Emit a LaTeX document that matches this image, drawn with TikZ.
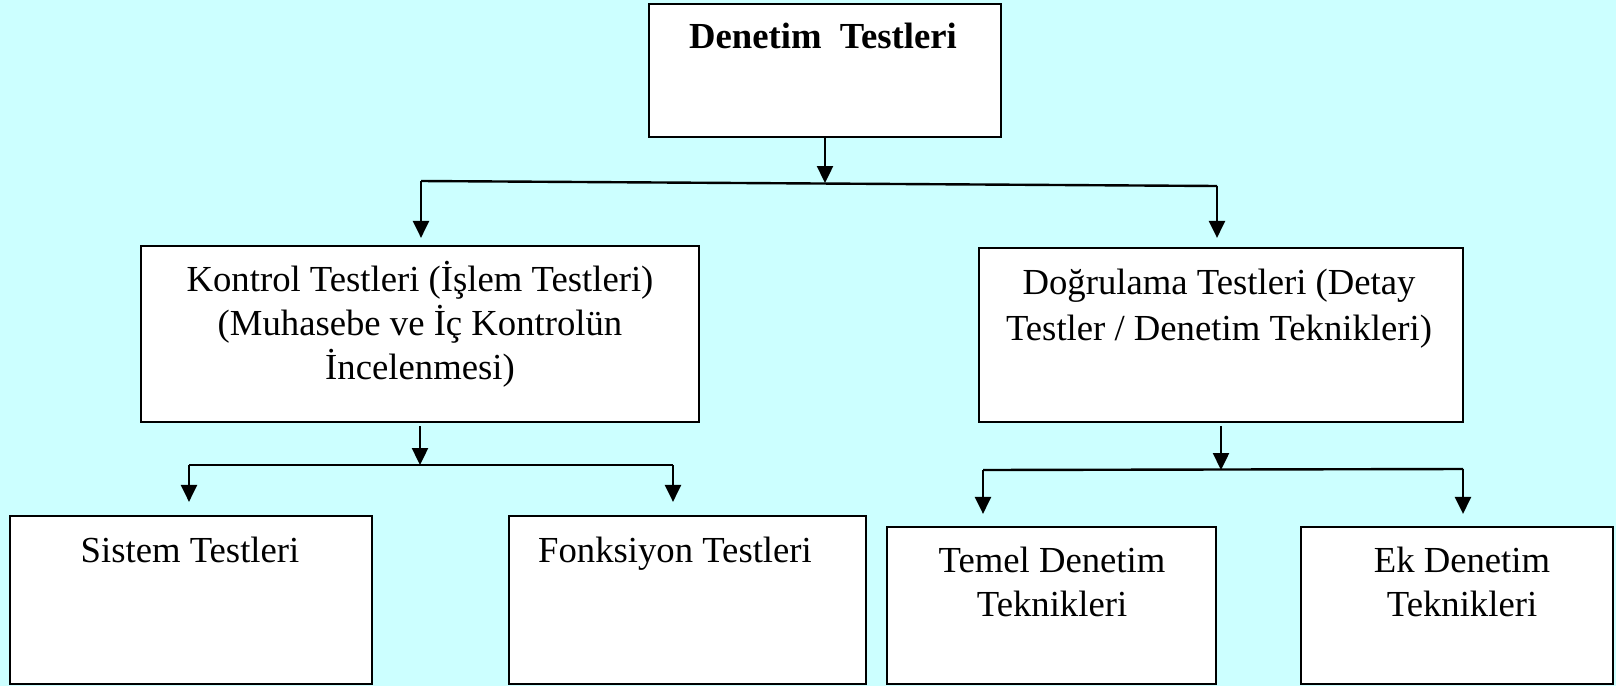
\documentclass[tikz,border=0pt]{standalone}
\usepackage{fontspec}
\setmainfont{Liberation Serif}
\usetikzlibrary{arrows.meta,fit}
\definecolor{bgcyan}{RGB}{204,255,255}
\begin{document}
\begin{tikzpicture}[x=0.5pt,y=-0.5pt,
  box/.style={draw=black, line width=1.1pt, fill=white, inner sep=0pt},
  lbl/.style={font=\fontsize{18.35}{22}\selectfont, align=center, inner sep=0pt, anchor=base},
  conn/.style={line width=1.2pt},
  arr/.style={conn, -{Triangle[length=8.5pt,width=8pt]}}]
\fill[bgcyan] (0,0) rectangle (1616,686);
\useasboundingbox (0,0) rectangle (1616,686);
% boxes
\node[box, fit={(649,4) (1001,137)}] (top) {};
\node[box, fit={(141,246) (699,422)}] (kon) {};
\node[box, fit={(979,248) (1463,422)}] (dog) {};
\node[box, fit={(10,516) (372,684)}] (sis) {};
\node[box, fit={(509,516) (866,684)}] (fon) {};
\node[box, fit={(887,527) (1216,684)}] (tem) {};
\node[box, fit={(1301,527) (1613,684)}] (ek) {};
% texts (anchor base = baseline of last line)
\node[lbl] (ttop) at (823,48) {\bfseries Denetim\ \ Testleri};
\node[lbl] (tkon) at (420,379) {Kontrol Testleri (İşlem Testleri)\\(Muhasebe ve İç Kontrolün\\İncelenmesi)};
\node[lbl, font=\fontsize{18.35}{23}\selectfont] (tdog) at (1219,340) {Doğrulama Testleri (Detay\\Testler / Denetim Teknikleri)};
\node[lbl] (tsis) at (190,562) {Sistem Testleri};
\node[lbl] (tfon) at (675,562) {Fonksiyon Testleri};
\node[lbl] (ttem) at (1052,616) {Temel Denetim\\Teknikleri};
\node[lbl] (tek) at (1462,616) {Ek Denetim\\Teknikleri};
% connectors level 1
\coordinate (j1) at (824,183);
\coordinate (jl) at (421,181);
\coordinate (jr) at (1217,186);
\draw[arr] (top.south) -- (top.south |- j1);
\draw[conn] (jl) -- (jr);
\draw[arr, shorten >=3.5pt] (jl) -- (jl |- kon.north);
\draw[arr, shorten >=4.5pt] (jr) -- (jr |- dog.north);
% connectors level 2 left
\coordinate (k1) at (422,465);
\coordinate (kl) at (189,465);
\coordinate (kr) at (673,465);
\draw[arr, shorten <=1.5pt] (kon.south) -- (kon.south |- k1);
\draw[conn] (kl) -- (kr);
\draw[arr, shorten >=6.5pt] (kl) -- (kl |- sis.north);
\draw[arr, shorten >=6.5pt] (kr) -- (kr |- fon.north);
% connectors level 2 right
\coordinate (d1) at (1217,470);
\coordinate (dl) at (983,470);
\coordinate (dr) at (1463,469);
\draw[arr, shorten <=1.5pt] (dog.south) -- (dog.south |- d1);
\draw[conn] (dl) -- (dr);
\draw[arr, shorten >=6pt] (dl) -- (dl |- tem.north);
\draw[arr, shorten >=6pt] (dr) -- (dr |- ek.north);
\end{tikzpicture}
\end{document}
